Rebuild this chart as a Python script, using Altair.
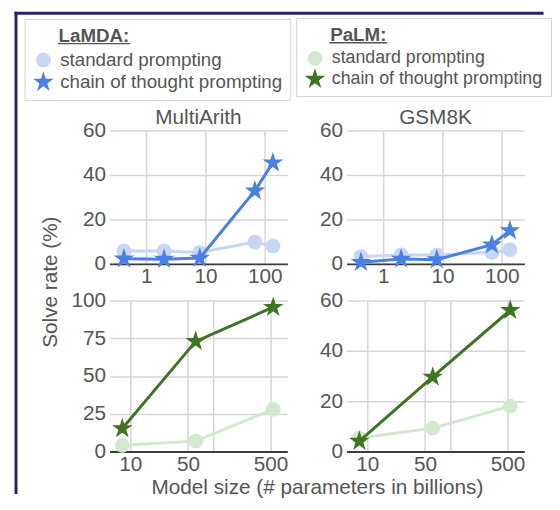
import altair as alt
import pandas as pd

# ---------------- data ----------------
series_names = ["standard prompting", "chain of thought prompting"]

lamda_sizes = [0.42, 2, 8, 68, 137]
palm_sizes = [8, 62, 540]

lamda_multiarith_standard = [5.8, 5.8, 5.1, 9.8, 8.0]
lamda_multiarith_cot = [2.3, 2.1, 2.6, 32.9, 45.5]
lamda_gsm8k_standard = [3.3, 4.0, 4.0, 5.2, 6.4]
lamda_gsm8k_cot = [0.7, 2.2, 1.9, 8.6, 15.0]
palm_multiarith_standard = [4.1, 6.9, 27.9]
palm_multiarith_cot = [15.2, 72.9, 95.5]
palm_gsm8k_standard = [5.4, 9.3, 18.0]
palm_gsm8k_cot = [4.1, 29.6, 56.1]

lamda_colors = ["#c6d6f4", "#4a80e3"]
palm_colors = ["#d4e8cf", "#3e7424"]

lamda_x_ticks = [1, 10, 100]
palm_x_ticks = [10, 50, 100, 500]
palm_x_hidden = [100]
y_ticks_60 = [0, 20, 40, 60]
y_ticks_100 = [0, 25, 50, 75, 100]

column_titles = ["MultiArith", "GSM8K"]
legend_titles = ["LaMDA:", "PaLM:"]
y_title = "Solve rate (%)"
x_title = "Model size (# parameters in billions)"

# ---------------- style ----------------
FONT = "Liberation Sans"
TEXT = "#555555"
GRID = "#d6d6d6"
FRAME = "#2f1e6e"
STAR = ("M0,-1L0.2245,-0.309L0.9511,-0.309L0.3633,0.118L0.5878,0.809L0,0.382"
        "L-0.5878,0.809L-0.3633,0.118L-0.9511,-0.309L-0.2245,-0.309Z")
INDENT = "\u200b" + "\u00a0" * 5
W = 180
H_TOP = 135
H_BOT = 153


def table(sizes, std, cot):
    return pd.DataFrame({
        "size": list(sizes) + list(sizes),
        "rate": list(std) + list(cot),
        "series": [series_names[0]] * len(sizes) + [series_names[1]] * len(sizes),
    })


def one_row():
    return alt.Chart(pd.DataFrame({"d": [0]}))


def decor_rule(color, width, **enc):
    return (one_row()
            .mark_rule(color=color, strokeWidth=width, strokeCap="square")
            .encode(**{k: alt.value(v) for k, v in enc.items()}))


def column_title(text):
    return (one_row()
            .mark_text(font=FONT, fontSize=21, color=TEXT, align="center",
                       baseline="alphabetic")
            .encode(x=alt.value(W / 2), y=alt.value(-6.5), text=alt.value(text)))


def make_legend(title, x, y, label_size):
    return alt.Legend(
        orient="none", legendX=x, legendY=y,
        title=INDENT + title,
        padding=8, strokeColor="#d2d2d2",
        labelFont=FONT, labelFontSize=label_size, labelColor=TEXT,
        labelLimit=400, labelOffset=6,
        titleFont=FONT, titleFontSize=19, titleFontWeight="bold",
        titleColor=TEXT, titlePadding=5, titleLimit=400,
        rowPadding=1, symbolStrokeWidth=0, symbolOpacity=1,
    )


def panel(df, colors, xdom, xticks, ydom, yticks, height,
          legend=None, xaxis_extra=None, yaxis_extra=None,
          hidden=(), decor=()):
    label_expr = "datum.label"
    if hidden:
        cond = " || ".join(f"datum.value == {h}" for h in hidden)
        label_expr = f"({cond}) ? '' : datum.label"
    x = alt.X("size:Q",
              scale=alt.Scale(type="log", domain=xdom, nice=False),
              axis=alt.Axis(values=xticks, format="d", labelExpr=label_expr,
                            **(xaxis_extra or {"title": None})))
    y = alt.Y("rate:Q",
              scale=alt.Scale(domain=ydom, nice=False),
              axis=alt.Axis(values=yticks, format="d",
                            **(yaxis_extra or {"title": None})))
    cscale = alt.Scale(domain=series_names, range=colors)
    sscale = alt.Scale(domain=series_names, range=["circle", STAR])
    zscale = alt.Scale(domain=series_names, range=[225, 480])
    color = alt.Color("series:N", scale=cscale, legend=legend)
    shape = alt.Shape("series:N", scale=sscale, legend=legend)
    size = alt.Size("series:N", scale=zscale, legend=legend)

    base = alt.Chart(df)
    layers = []
    for name, col in zip(series_names, colors):
        sub = base.transform_filter(alt.datum.series == name)
        layers.append(sub.mark_line(strokeWidth=3, color=col).encode(x=x, y=y))
        layers.append(sub.mark_point(filled=True, opacity=1, strokeWidth=0).encode(
            x=x, y=y, color=color, shape=shape, size=size))
    return alt.layer(*layers, *decor).properties(width=W, height=height)


# frame, column titles and legend underlines (pixel offsets from their panel)
tl_decor = [
    decor_rule(FRAME, 3, x=-94.7, y=-118.7, y2=366.5),
    decor_rule(FRAME, 3, x=-94.7, x2=438, y=-118.7),
    decor_rule(TEXT, 1.5, x=-51.6, x2=20.2, y=-88),
    column_title(column_titles[0]),
]
tr_decor = [column_title(column_titles[1])]
br_decor = [decor_rule(TEXT, 1.5, x=-16.6, x2=40.4, y=-261)]

tl = panel(
    table(lamda_sizes, lamda_multiarith_standard, lamda_multiarith_cot),
    lamda_colors, [0.24, 240], lamda_x_ticks, [0, 60], y_ticks_60, H_TOP,
    legend=make_legend(legend_titles[0], 24 - 110, 15 - 128, 19),
    yaxis_extra=dict(title=y_title, titleX=-54, titleY=153, titleAngle=270,
                     titleAlign="center", titleBaseline="alphabetic"),
    decor=tl_decor)

tr = panel(
    table(lamda_sizes, lamda_gsm8k_standard, lamda_gsm8k_cot),
    lamda_colors, [0.24, 240], lamda_x_ticks, [0, 60], y_ticks_60, H_TOP,
    legend=None, decor=tr_decor)

bl = panel(
    table(palm_sizes, palm_multiarith_standard, palm_multiarith_cot),
    palm_colors, [5.6, 800], palm_x_ticks, [0, 100], y_ticks_100, H_BOT,
    legend=None, hidden=palm_x_hidden,
    xaxis_extra=dict(title=x_title, titleX=210, titleY=42, titleAngle=0,
                     titleAlign="center", titleBaseline="alphabetic"))

br = panel(
    table(palm_sizes, palm_gsm8k_standard, palm_gsm8k_cot),
    palm_colors, [5.6, 800], palm_x_ticks, [0, 60], y_ticks_60, H_BOT,
    legend=make_legend(legend_titles[1], 299 - 350, 14 - 300, 18),
    hidden=palm_x_hidden, decor=br_decor)

chart = (
    alt.concat(tl, tr, bl, br, columns=2,
               spacing=alt.RowColnumber(row=37, column=60),
               bounds="flush", align="each")
    .resolve_scale(color="independent", shape="independent", size="independent")
    .properties(padding={"left": 5.8, "top": 0, "right": 0, "bottom": 0},
                background="white")
    .configure_view(stroke=None)
    .configure_axis(labelFont=FONT, labelFontSize=21, labelColor=TEXT,
                    gridColor=GRID, gridWidth=1.5, ticks=False, domain=False,
                    labelPadding=4, labelFlush=False, labelOverlap=False,
                    labelBound=False,
                    titleFont=FONT, titleFontSize=21, titleColor=TEXT,
                    titleFontWeight="normal")
    .configure_axisX(domain=True, domainColor="#3d3d3d", domainWidth=2,
                     labelPadding=2)
)

chart.save("out.html", embed_options={"renderer": "svg", "actions": False})
